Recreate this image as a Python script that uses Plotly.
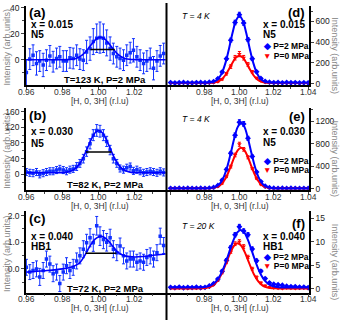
import plotly.graph_objects as go

# %% left column: single scans at P=2 MPa, shared H grid
h_left = [0.9600, 0.9619, 0.9637, 0.9656, 0.9674, 0.9693, 0.9711, 0.9730, 0.9748, 0.9767,
          0.9785, 0.9804, 0.9822, 0.9841, 0.9859, 0.9878, 0.9896, 0.9915, 0.9933, 0.9952,
          0.9970, 0.9989, 1.0007, 1.0026, 1.0044, 1.0063, 1.0081, 1.0100, 1.0118, 1.0137,
          1.0155, 1.0174, 1.0192, 1.0211, 1.0229, 1.0248, 1.0266, 1.0285, 1.0303, 1.0322,
          1.0340, 1.0359]

a_int = [-9.8, 0.5, 3.5, -2.8, -1.0, -4.0, -0.3, 3.0, -1.5, 1.0,
         2.3, -1.0, -1.0, 1.5, 1.0, 3.5, 0.5, -0.3, 6.0, 8.6,
         14.0, 16.6, 17.1, 16.6, 13.0, 8.6, 4.8, 2.3, 1.0, -0.3,
         3.5, 5.5, 7.3, 2.3, -0.3, -2.8, -1.0, 1.0, -6.5, -1.0,
         3.0, 4.8]
a_err = [10, 8, 8, 9, 8, 9, 8, 8, 8, 8, 8, 8, 8, 8, 8, 8, 8, 8, 9, 9,
         10, 11, 12, 11, 10, 9, 8, 8, 8, 8, 8, 8, 9, 8, 8, 8, 8, 8, 9, 8, 8, 8]
a_fit_h = [0.960, 0.975, 0.983, 0.985, 0.987, 0.989, 0.991, 0.993, 0.995, 0.997, 0.999, 1.001,
           1.003, 1.005, 1.007, 1.009, 1.011, 1.013, 1.015, 1.017, 1.019, 1.027, 1.037]
a_fit = [0.0, 0.0, 0.1, 0.35, 0.85, 1.9, 3.7, 6.5, 10.0, 13.6, 16.4, 17.4,
         16.4, 13.6, 10.0, 6.5, 3.7, 1.9, 0.85, 0.35, 0.1, 0.0, 0.0]
a_fwhm = [0.9954, 1.0089, 8.0]

b_int = [6, 4, 3, 6, 0, 3, 6, 8, 8, 11, 14, 11, 8, 12, 14, 20, 28, 40, 58, 78,
         100, 112, 110, 100, 84, 62, 40, 28, 15, 12, 17, 20, 9, 12, 8, 4, 6, 8, 6, 4, 8, 5]
b_err = [9, 9, 9, 9, 9, 9, 9, 9, 9, 9, 9, 9, 9, 9, 9, 10, 10, 11, 12, 13,
         14, 15, 15, 14, 13, 12, 11, 10, 9, 9, 9, 9, 9, 9, 9, 9, 9, 9, 9, 9, 9, 9]
b_fit_h = [0.960, 0.975, 0.980, 0.982, 0.984, 0.986, 0.988, 0.990, 0.992, 0.994, 0.996, 0.998, 1.000,
           1.002, 1.004, 1.006, 1.008, 1.010, 1.012, 1.014, 1.016, 1.018, 1.020, 1.025, 1.037]
b_fit = [4.0, 4.0, 4.4, 5.2, 7.1, 11.1, 18.6, 30.9, 48.4, 69.5, 90.5, 106.2, 112.0,
         106.2, 90.5, 69.5, 48.4, 30.9, 18.6, 11.1, 7.1, 5.2, 4.4, 4.0, 4.0]
b_fwhm = [0.993, 1.007, 57]

c_int = [0.06, -0.12, -0.06, 0.0, -0.3, -0.06, 0.37, 0.18, -0.18, -0.12,
         -0.55, -0.12, 0.12, -0.06, 0.06, 0.3, 0.49, 0.74, 0.98, 1.17,
         0.98, 1.62, 1.23, 1.1, 1.0, 1.17, 0.74, 0.61, 0.86, 0.49,
         0.3, 0.37, 0.37, 0.25, 0.3, 0.25, 0.43, 0.49, 0.37, 0.61,
         1.23, 0.88]
c_err = [0.3, 0.28, 0.3, 0.3, 0.32, 0.3, 0.3, 0.3, 0.3, 0.3, 0.3, 0.3, 0.3, 0.3, 0.3, 0.3, 0.3, 0.32, 0.32, 0.34,
         0.32, 0.35, 0.35, 0.34, 0.33, 0.32, 0.32, 0.3, 0.3, 0.3, 0.3, 0.3, 0.3, 0.3, 0.3, 0.3, 0.3, 0.3, 0.3, 0.3,
         0.3, 0.3]
c_fit_h = [0.960, 0.970, 0.980, 0.985, 0.988, 0.990, 0.992, 0.994, 0.996, 0.998, 1.000, 1.001,
           1.002, 1.004, 1.006, 1.008, 1.010, 1.012, 1.015, 1.020, 1.025, 1.030, 1.037]
c_fit = [-0.12, -0.07, 0.0, 0.07, 0.16, 0.27, 0.47, 0.72, 0.95, 1.12, 1.21, 1.23,
         1.22, 1.14, 1.0, 0.83, 0.67, 0.56, 0.48, 0.45, 0.47, 0.51, 0.56]
c_fwhm = [0.9928, 1.0098, 0.59]

# %% right column: P=2 MPa (blue) vs P=0 MPa (red)
h_right = [0.9600, 0.9625, 0.9650, 0.9675, 0.9700, 0.9725, 0.9750, 0.9775, 0.9800, 0.9825,
           0.9850, 0.9875, 0.9900, 0.9925, 0.9950, 0.9975, 1.0000, 1.0025, 1.0050, 1.0075,
           1.0100, 1.0125, 1.0150, 1.0175, 1.0200, 1.0225, 1.0250, 1.0275, 1.0300, 1.0325,
           1.0350, 1.0375, 1.0400]

d_blue = [10, 6, 9, 12, 8, 7, 10, 12, 9,
          14, 20, 48, 112, 240, 420, 590, 665, 585, 425, 240, 115, 50, 22, 14,
          10, 12, 8, 11, 9, 10, 7, 9, 8]
d_blue_err = [4, 4, 4, 4, 4, 4, 4, 4, 4,
              5, 6, 8, 11, 15, 19, 22, 24, 22, 19, 15, 11, 8, 6, 5,
              4, 4, 4, 4, 4, 4, 4, 4, 4]
d_red = [5, 7, 4, 6, 5, 8, 4, 6, 5,
         7, 10, 18, 42, 95, 165, 250, 285, 250, 185, 115, 55, 28, 14, 9,
         6, 5, 7, 4, 6, 5, 4, 6, 5]
d_red_err = [4, 4, 4, 4, 4, 4, 4, 4, 4,
             4, 5, 6, 8, 12, 18, 22, 25, 22, 18, 12, 8, 6, 5, 4,
             4, 4, 4, 4, 4, 4, 4, 4, 4]
d_fit_h = [0.960, 0.970, 0.976, 0.978, 0.980, 0.982, 0.984, 0.986, 0.988, 0.990, 0.992, 0.994, 0.996, 0.998,
           1.000, 1.002, 1.004, 1.006, 1.008, 1.010, 1.012, 1.014, 1.016, 1.018, 1.020, 1.022, 1.024, 1.030, 1.040]
d_fit_blue = [8, 8, 8, 8.1, 8.4, 9.6, 13.7, 25, 53, 109, 205, 340, 488, 607, 653,
              607, 488, 340, 205, 109, 53, 25, 13.7, 9.6, 8.4, 8.1, 8, 8, 8]
d_fit_red = [5, 5, 5, 5.0, 5.2, 5.7, 7.3, 12.1, 23.5, 46.6, 86.1, 141.2, 202.2, 251.2, 270,
             251.2, 202.2, 141.2, 86.1, 46.6, 23.5, 12.1, 7.3, 5.7, 5.2, 5.0, 5, 5, 5]

e_blue = [10, 8, 12, 9, 11, 10, 8, 12, 10,
          14, 25, 62, 155, 345, 630, 950, 1180, 1150, 895, 575, 300, 130, 50, 22,
          13, 10, 12, 9, 11, 10, 8, 10, 9]
e_blue_err = [6, 6, 6, 6, 6, 6, 6, 6, 6,
              6, 8, 12, 18, 26, 34, 40, 44, 42, 36, 28, 18, 12, 8, 6,
              6, 6, 6, 6, 6, 6, 6, 6, 6]
e_red = [8, 10, 7, 9, 11, 8, 10, 9, 8,
         12, 19, 42, 100, 220, 395, 600, 790, 700, 560, 360, 185, 80, 35, 18,
         12, 9, 11, 8, 10, 9, 11, 8, 10]
e_red_err = [6, 6, 6, 6, 6, 6, 6, 6, 6,
             6, 7, 10, 15, 20, 26, 32, 36, 32, 28, 20, 14, 9, 7, 6,
             6, 6, 6, 6, 6, 6, 6, 6, 6]
e_fit_h = [0.960, 0.970, 0.977, 0.979, 0.981, 0.983, 0.985, 0.987, 0.989, 0.991, 0.993, 0.995, 0.997, 0.999,
           1.001, 1.003, 1.005, 1.007, 1.009, 1.011, 1.013, 1.015, 1.017, 1.019, 1.021, 1.023, 1.025, 1.031, 1.040]
e_fit_blue = [10, 10, 10, 10.2, 11.2, 14.5, 24.4, 50, 108, 219, 397, 635, 892, 1093, 1170,
              1093, 892, 635, 397, 219, 108, 50, 24.4, 14.5, 11.2, 10.2, 10, 10, 10]
e_fit_red = [10, 10, 10, 10.1, 10.7, 12.8, 18.9, 35, 71, 140, 250, 398, 557, 682, 730,
             682, 557, 398, 250, 140, 71, 35, 18.9, 12.8, 10.7, 10.1, 10, 10, 10]

f_blue = [0.35, 0.3, 0.4, 0.25, 0.35, 0.3, 0.4, 0.3, 0.35,
          0.63, 1.12, 2.1, 3.75, 6.1, 8.8, 11.5, 13.2, 12.3, 11.5, 8.5, 6.0, 3.8, 2.2, 1.3,
          1.0, 0.9, 0.8, 0.6, 0.5, 0.5, 0.4, 0.4, 0.3]
f_blue_err = [0.12, 0.12, 0.12, 0.12, 0.12, 0.12, 0.12, 0.12, 0.12,
              0.15, 0.2, 0.25, 0.3, 0.35, 0.4, 0.45, 0.5, 0.45, 0.45, 0.4, 0.35, 0.3, 0.25, 0.2,
              0.15, 0.15, 0.15, 0.15, 0.15, 0.15, 0.15, 0.15, 0.15]
f_red = [0.15, 0.1, 0.2, 0.15, 0.1, 0.2, 0.15, 0.1, 0.2,
         0.4, 0.87, 1.84, 3.47, 5.66, 7.92, 9.6, 10.0, 9.0, 6.8, 4.3, 2.5, 1.3, 0.7, 0.4,
         0.2, 0.15, 0.1, 0.2, 0.15, 0.1, 0.15, 0.2, 0.1]
f_red_err = [0.1, 0.1, 0.1, 0.1, 0.1, 0.1, 0.1, 0.1, 0.1,
             0.12, 0.15, 0.2, 0.25, 0.3, 0.35, 0.4, 0.45, 0.4, 0.35, 0.3, 0.25, 0.2, 0.15, 0.12,
             0.1, 0.1, 0.1, 0.1, 0.1, 0.1, 0.1, 0.1, 0.1]
f_fit_blue_h = [0.960, 0.970, 0.9768, 0.9788, 0.9808, 0.9828, 0.9848, 0.9868, 0.9888, 0.9908, 0.9928, 0.9948,
                0.9968, 0.9988, 1.0008, 1.0028, 1.0048, 1.0068, 1.0088, 1.0108, 1.0128, 1.0148, 1.0168,
                1.0188, 1.0208, 1.0228, 1.0248, 1.032, 1.040]
f_fit_blue = [0.3, 0.3, 0.32, 0.36, 0.46, 0.67, 1.07, 1.76, 2.87, 4.44, 6.4, 8.56, 10.56, 11.99, 12.5,
              11.99, 10.56, 8.56, 6.4, 4.44, 2.87, 1.76, 1.07, 0.67, 0.46, 0.36, 0.32, 0.3, 0.3]
f_fit_red_h = [0.960, 0.968, 0.975, 0.977, 0.979, 0.981, 0.983, 0.985, 0.987, 0.989, 0.991, 0.993, 0.995, 0.997,
               0.999, 1.001, 1.003, 1.005, 1.007, 1.009, 1.011, 1.013, 1.015, 1.017, 1.019, 1.021, 1.023,
               1.030, 1.040]
f_fit_red = [0.12, 0.12, 0.12, 0.14, 0.17, 0.26, 0.46, 0.87, 1.6, 2.73, 4.30, 6.13, 7.92, 9.23, 9.72,
             9.23, 7.92, 6.13, 4.30, 2.73, 1.6, 0.87, 0.46, 0.26, 0.17, 0.14, 0.12, 0.12, 0.12]

left_ticks = [0.96, 0.98, 1.00, 1.02]
right_ticks = [0.98, 1.00, 1.02, 1.04]

# %%
W, H = 342, 324
FONT = "Arial, Liberation Sans, sans-serif"
BLUE = "#0000ff"
RED = "#ff0000"


def px(x):
    return x / W


def py(y):
    return 1 - y / H


def add_points(fig, xa, ya, h, y, err, color, symbol, size):
    fig.add_trace(
        go.Scatter(
            x=h, y=y, xaxis=xa, yaxis=ya, mode="markers",
            marker=dict(color=color, symbol=symbol, size=size, line=dict(width=0)),
            error_y=dict(type="data", array=err, color=color, thickness=1, width=1.5),
            showlegend=False,
        )
    )


def add_line(fig, xa, ya, h, y, color, width, shape="spline"):
    fig.add_trace(
        go.Scatter(
            x=h, y=y, xaxis=xa, yaxis=ya, mode="lines", line_shape=shape,
            line=dict(color=color, width=width), showlegend=False,
        )
    )


fig = go.Figure()

left = [
    ("x", "y", a_int, a_err, a_fit_h, a_fit, a_fwhm),
    ("x2", "y2", b_int, b_err, b_fit_h, b_fit, b_fwhm),
    ("x3", "y3", c_int, c_err, c_fit_h, c_fit, c_fwhm),
]
for xa, ya, yi, ye, fh, fv, bar in left:
    add_points(fig, xa, ya, h_left, yi, ye, "#1030ff", "square", 3.5)
    add_line(fig, xa, ya, fh, fv, BLUE, 1.6)
    add_line(fig, xa, ya, bar[:2], [bar[2], bar[2]], "black", 1.5, shape="linear")

right = [
    ("x4", "y4", d_blue, d_blue_err, d_red, d_red_err, d_fit_h, d_fit_blue, d_fit_h, d_fit_red),
    ("x5", "y5", e_blue, e_blue_err, e_red, e_red_err, e_fit_h, e_fit_blue, e_fit_h, e_fit_red),
    ("x6", "y6", f_blue, f_blue_err, f_red, f_red_err, f_fit_blue_h, f_fit_blue, f_fit_red_h, f_fit_red),
]
for xa, ya, yb, eb, yr, er, fbh, fb, frh, fr in right:
    add_points(fig, xa, ya, h_right, yr, er, RED, "triangle-down", 4)
    add_points(fig, xa, ya, h_right, yb, eb, BLUE, "diamond", 4.5)
    add_line(fig, xa, ya, frh, fr, RED, 2)
    add_line(fig, xa, ya, fbh, fb, BLUE, 2)

# %% axes
rows = [(3, 84), (107, 191), (213, 296)]
left_dom = [px(26), px(166)]
right_dom = [px(167), px(309)]

y_specs = [
    ([-19.6, 41.5], 20, None),
    ([-39.5, 170], 40, None),
    ([-0.89, 2.16], 1.0, ".1f"),
    ([-15, 750], 200, None),
    ([-17, 1437], 400, None),
    ([-0.77, 16.45], 5, None),
]

axes = {}
for i in range(6):
    n = "" if i == 0 else str(i + 1)
    is_left = i < 3
    top, bot = rows[i % 3]
    rng, dt, fmt = y_specs[i]
    axes["xaxis" + n] = dict(
        domain=left_dom if is_left else right_dom,
        range=[0.9598, 1.0372] if is_left else [0.9579, 1.0405],
        anchor="y" + n, tickmode="linear", tick0=0.96, dtick=0.02, showticklabels=False,
        showline=True, linecolor="black", linewidth=1.5, ticks="outside", ticklen=3,
        showgrid=False, zeroline=False,
        minor=dict(ticks="outside", ticklen=2, dtick=0.01, tick0=0.96, showgrid=False),
    )
    axes["yaxis" + n] = dict(
        domain=[py(bot), py(top)], range=rng, anchor="x" + n,
        side="left" if is_left else "right",
        tickmode="linear", tick0=0, dtick=dt, tickformat=fmt,
        showline=True, linecolor="black", linewidth=1.5, ticks="outside", ticklen=3,
        tickfont=dict(family=FONT, size=8.5, color="#222"), showgrid=False, zeroline=False,
        minor=dict(ticks="outside", ticklen=2, dtick=dt / 2, tick0=0, showgrid=False),
    )

fig.update_layout(**axes)

# %% text
notes = []


def note(text, x, y, size, xanchor="left", color="black", angle=0, xref="paper"):
    notes.append(dict(
        text=text, x=px(x) if xref == "paper" else x, y=py(y), xref=xref, yref="paper",
        xanchor=xanchor, yanchor="middle", showarrow=False, textangle=angle,
        font=dict(family=FONT, size=size, color=color), borderpad=0,
    ))


left_labels = [
    ("(a)", "x = 0.015", "N5", "T=123 K, P=2 MPa", 10, 21.7, 32.3, 78.3),
    ("(b)", "x = 0.030", "N5", "T=82 K, P=2 MPa", 115, 131.7, 143.3, 186),
    ("(c)", "x = 0.040", "HB1", "T=72 K, P=2 MPa", 220, 238.3, 249, 292),
]
for tag, xs, inst, cond, y0, y1, y2, y3 in left_labels:
    note(f"<b>{tag}</b>", 28, y0, 13.5)
    note(f"<b>{xs}</b>", 30, y1, 10)
    note(f"<b>{inst}</b>", 30, y2, 10)
    note(f"<b>{cond}</b>", 105, y3, 9.5, xanchor="center")

right_labels = [
    ("(d)", "T = 4 K", "x = 0.015", "N5", 10, 13.3, 21.7, 32.3, 44, 54.5),
    ("(e)", "T = 4 K", "x = 0.030", "N5", 116, 118.3, 131.7, 143, 161.7, 170.5),
    ("(f)", "T = 20 K", "x = 0.040", "HB1", 225.5, 228.3, 238.8, 248.8, 260, 268.5),
]
for tag, temp, xs, inst, y0, yt, y1, y2, y3, y4 in right_labels:
    note(f"<b>{tag}</b>", 306, y0, 13, xanchor="right")
    note(f"<i>{temp}</i>", 181, yt, 8.5)
    note(f"<b>{xs}</b>", 262, y1, 10)
    note(f"<b>{inst}</b>", 262, y2, 10)
    note(f'<b><span style="color:{BLUE}">◆</span> P=2 MPa</b>', 262, y3, 8.5)
    note(f'<b><span style="color:{RED}">▼</span> P=0 MPa</b>', 262, y4, 8.5)

for i, (top, bot) in enumerate(rows):
    n = "" if i == 0 else str(i + 1)
    m = str(i + 4)
    for t in left_ticks:
        note(f"{t:.2f}", t, bot + 7, 8.5, xanchor="center", color="#333", xref="x" + n)
    for t in right_ticks:
        note(f"{t:.2f}", t, bot + 7, 8.5, xanchor="center", color="#333", xref="x" + m)
    note("[H, 0, 3H] (r.l.u)", 100, bot + 16, 8.5, xanchor="center", color="#333")
    note("[H, 0, 3H] (r.l.u)", 240, bot + 16, 8.5, xanchor="center", color="#333")
    note("Intensity (arb.units)", 7, (top + bot) / 2 + 2, 9, xanchor="center", color="#888", angle=-90)
    note("Intensity (arb.units)", 335, (top + bot) / 2 + 10, 9, xanchor="center", color="#888", angle=90)

fig.update_layout(
    annotations=notes,
    shapes=[dict(type="line", xref="paper", yref="paper", x0=px(166.5), x1=px(166.5), y0=0, y1=1,
                 line=dict(color="black", width=2))],
    width=W, height=H, autosize=False,
    margin=dict(l=0, r=0, t=0, b=0),
    paper_bgcolor="white", plot_bgcolor="white",
    font=dict(family=FONT),
    showlegend=False,
)

fig.write_html("out.html", config={"displayModeBar": False},
               post_script="document.body.style.margin='0';")
